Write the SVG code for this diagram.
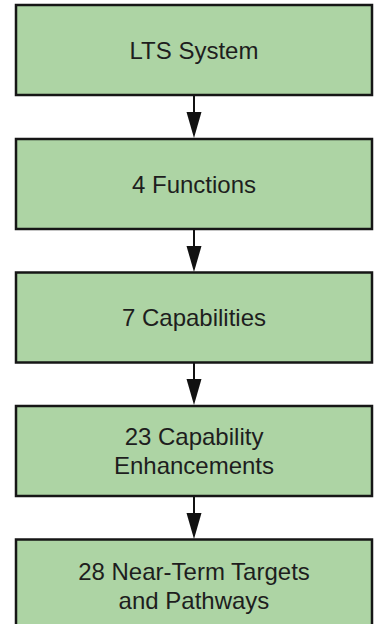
<svg xmlns="http://www.w3.org/2000/svg" width="380" height="624" viewBox="0 0 380 624">
  <style>
    .box { fill: #add4a4; stroke: #161616; stroke-width: 2.5; }
    .label { font-family: "Liberation Sans", Arial, sans-serif; font-size: 24px; fill: #1e1e1e; text-anchor: middle; }
    .link { stroke: #111; stroke-width: 2; fill: none; }
    .head { fill: #111; }
  </style>
  <rect width="380" height="624" fill="#ffffff"/>

  <g id="connectors">
    <line class="link" x1="194" y1="95" x2="194" y2="114"/>
    <polygon class="head" points="186.5,112 201.5,112 194,138"/>
    <line class="link" x1="194" y1="229" x2="194" y2="248"/>
    <polygon class="head" points="186.5,246 201.5,246 194,272"/>
    <line class="link" x1="194" y1="362" x2="194" y2="381"/>
    <polygon class="head" points="186.5,379 201.5,379 194,405"/>
    <line class="link" x1="194" y1="496" x2="194" y2="515"/>
    <polygon class="head" points="186.5,513 201.5,513 194,539"/>
  </g>

  <g id="lts-system">
    <rect class="box" x="16" y="5" width="356" height="90"/>
    <text class="label" x="194" y="58.5">LTS System</text>
  </g>

  <g id="functions">
    <rect class="box" x="16" y="139" width="356" height="90"/>
    <text class="label" x="194" y="193">4 Functions</text>
  </g>

  <g id="capabilities">
    <rect class="box" x="16" y="272.5" width="356" height="90"/>
    <text class="label" x="194" y="326">7 Capabilities</text>
  </g>

  <g id="capability-enhancements">
    <rect class="box" x="16" y="406" width="356" height="90"/>
    <text class="label" x="194" y="445">23 Capability</text>
    <text class="label" x="194" y="474">Enhancements</text>
  </g>

  <g id="near-term-targets">
    <rect class="box" x="16" y="539.5" width="356" height="92"/>
    <text class="label" x="194" y="580">28 Near-Term Targets</text>
    <text class="label" x="194" y="608.5">and Pathways</text>
  </g>
</svg>
